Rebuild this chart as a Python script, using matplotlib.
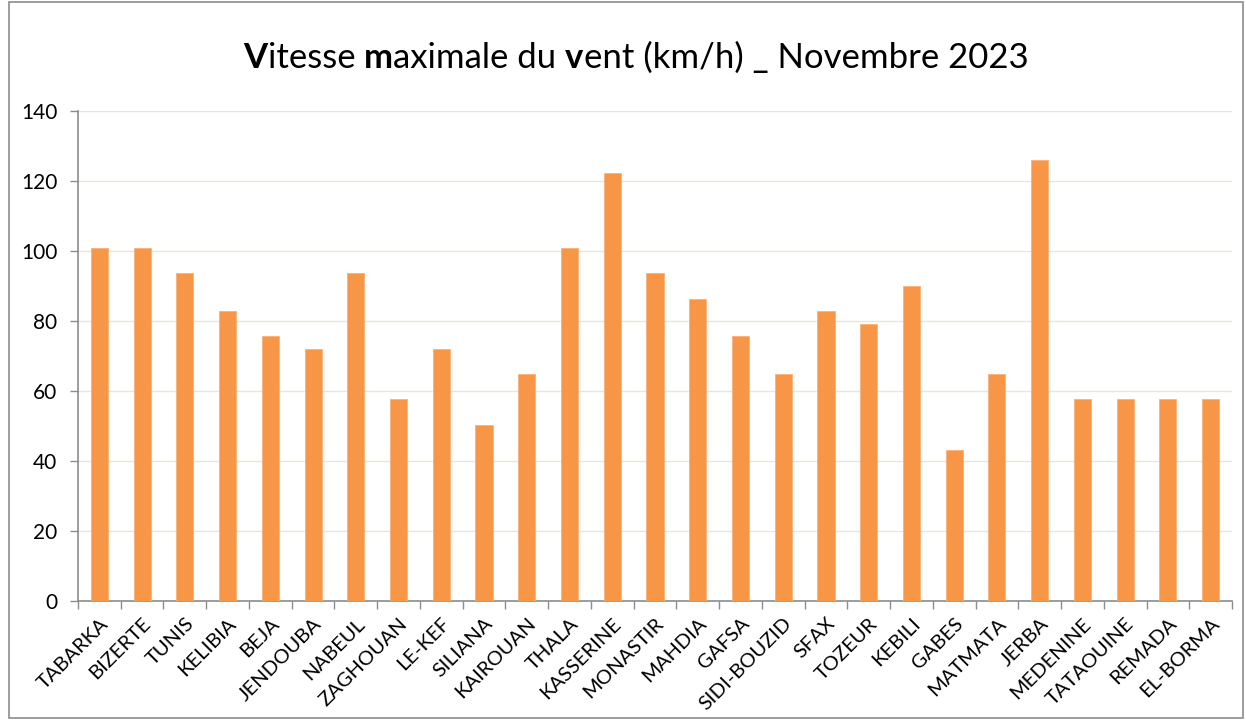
import matplotlib.pyplot as plt
import numpy as np
from matplotlib.patches import Rectangle

stations = ['TABARKA', 'BIZERTE', 'TUNIS', 'KELIBIA', 'BEJA', 'JENDOUBA', 'NABEUL',
            'ZAGHOUAN', 'LE-KEF', 'SILIANA', 'KAIROUAN', 'THALA', 'KASSERINE',
            'MONASTIR', 'MAHDIA', 'GAFSA', 'SIDI-BOUZID', 'SFAX', 'TOZEUR', 'KEBILI',
            'GABES', 'MATMATA', 'JERBA', 'MEDENINE', 'TATAOUINE', 'REMADA', 'EL-BORMA']
vent_max = [100.8, 100.8, 93.6, 82.8, 75.6, 72.0, 93.6,
            57.6, 72.0, 50.4, 64.8, 100.8, 122.4,
            93.6, 86.4, 75.6, 64.8, 82.8, 79.2, 90.0,
            43.2, 64.8, 126.0, 57.6, 57.6, 57.6, 57.6]
y_ticks = [0, 20, 40, 60, 80, 100, 120, 140]
title_parts = [('V', True), ('itesse ', False), ('m', True), ('aximale du ', False),
               ('v', True), ('ent (km/h) _ Novembre 2023', False)]

plt.rcParams['font.family'] = ['Lato', 'DejaVu Sans']

fig = plt.figure(figsize=(12.46, 7.2), dpi=100)
ax = fig.add_axes([78 / 1246, 1 - 601 / 720, (1232 - 78) / 1246, (601 - 111) / 720])

x = np.arange(len(stations))
ax.bar(x, vent_max, width=0.4, color='#F79646', edgecolor='#F9B07A', linewidth=0.6, zorder=3)

ax.set_xlim(-0.5, len(stations) - 0.5)
ax.set_ylim(0, 140)
ax.set_yticks(y_ticks)
ax.set_yticklabels([str(v) for v in y_ticks], fontsize=15)
ax.grid(axis='y', color='#E8E6D8', linewidth=1, zorder=0)

ax.set_xticks(x)
ax.set_xticklabels(stations, rotation=45, ha='right', rotation_mode='anchor', fontsize=14.5)
ax.tick_params(axis='x', length=0, pad=10)
ax.set_xticks(np.arange(-0.5, len(stations)), minor=True)
ax.tick_params(axis='x', which='minor', length=6, color='#8C8C8C', width=1)
ax.tick_params(axis='y', length=6, color='#8C8C8C', width=1, pad=9)

for side in ['top', 'right']:
    ax.spines[side].set_visible(False)
for side in ['left', 'bottom']:
    ax.spines[side].set_color('#8C8C8C')
    ax.spines[side].set_linewidth(1.2)

# outer frame
fig.patches.append(Rectangle((9 / 1246, 2 / 720), 1234 / 1246, 716 / 720, transform=fig.transFigure,
                             fill=False, edgecolor='#8C8C8C', linewidth=1.2))

# title with some bold letters
renderer = fig.canvas.get_renderer()
texts = []
total = 0
for s, bold in title_parts:
    t = fig.text(0, 0, s, fontsize=25, fontweight='bold' if bold else 'normal', va='baseline')
    w = t.get_window_extent(renderer).width
    texts.append((t, w))
    total += w
xpos = 636 - total / 2
for t, w in texts:
    t.set_position((xpos / 1246, 1 - 68 / 720))
    xpos += w

fig.savefig('out.png', dpi=100)
